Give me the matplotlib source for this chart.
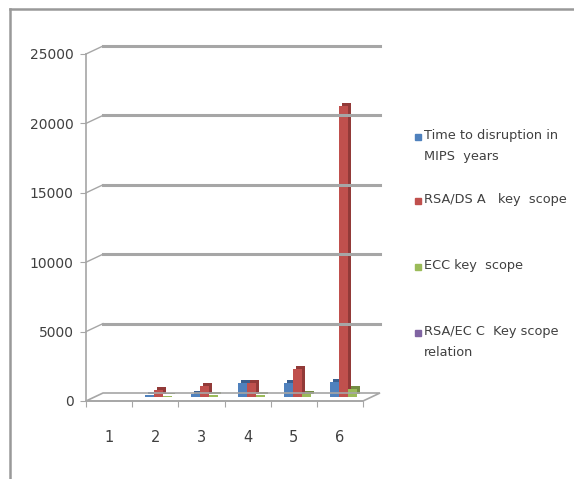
import matplotlib.pyplot as plt
from matplotlib.patches import Rectangle, Polygon
from matplotlib.lines import Line2D
from matplotlib.transforms import ScaledTranslation

# Dados das series
categorias = [1, 2, 3, 4, 5, 6]
tempo_mips = [0, 120, 200, 1000, 1000, 1100]
rsa_dsa = [0, 512, 768, 1024, 2048, 21000]
ecc = [0, 106, 132, 160, 224, 600]
rsa_ecc = [0, 5, 6, 6, 9, 35]
yticks = [0, 5000, 10000, 15000, 20000, 25000]

nomes = ['Time to disruption in\nMIPS  years', 'RSA/DS A   key  scope',
         'ECC key  scope', 'RSA/EC C  Key scope\nrelation']
cores = ['#4F81BD', '#C0504D', '#9BBB59', '#8064A2']
cores_escuras = ['#3A6090', '#923A38', '#738C42', '#5E4A78']
series = [tempo_mips, rsa_dsa, ecc, rsa_ecc]

W, H = 574, 479
cinza = '#A6A6A6'

fig = plt.figure(figsize=(W / 100, H / 100), dpi=100)
ax = fig.add_axes([86 / W, 1 - 401 / H, 277 / W, 347 / H])
ax.set_xlim(0.5, 6.5)
ax.set_ylim(0, 25000)


def px(ponto, dx=0, dy=0):
    # converte ponto de dados para fracao da figura, com deslocamento em pixels
    x, y = ax.transData.transform(ponto)
    return (x + dx) / W, (y + dy) / H


def linha(p0, p1, **kw):
    fig.add_artist(Line2D([p0[0], p1[0]], [p0[1], p1[1]],
                          transform=fig.transFigure, **kw))


# profundidade do "3D"
DX, DY = 17, 8

# piso
piso = [px((0.5, 0)), px((6.5, 0)), px((6.5, 0), DX, DY), px((0.5, 0), DX, DY)]
fig.add_artist(Polygon(piso, closed=True, facecolor='none', edgecolor=cinza,
                       lw=1.2, transform=fig.transFigure))

# grade na parede do fundo + diagonais da parede lateral
for v in yticks[1:]:
    linha(px((0.5, v), DX, DY), px((6.5, v), DX, DY), color=cinza, lw=2.2)
    linha(px((0.5, v)), px((0.5, v), DX, DY), color=cinza, lw=1.0)

# Barras com face lateral (no meio da profundidade)
meio = ScaledTranslation(8 / 100, 4 / 100, fig.dpi_scale_trans)
lado = ScaledTranslation(11 / 100, 7 / 100, fig.dpi_scale_trans)
largura = 0.195
for i, (vals, cor, escura) in enumerate(zip(series, cores, cores_escuras)):
    xs = [c + (i - 1.5) * largura for c in categorias]
    ax.bar(xs, vals, largura, color=escura, transform=ax.transData + lado,
           zorder=2 + i * 0.1, clip_on=False)
    ax.bar(xs, vals, largura, color=cor, transform=ax.transData + meio,
           zorder=2.05 + i * 0.1, clip_on=False)

ax.set_yticks(yticks)
ax.set_xticks([0.5, 1.5, 2.5, 3.5, 4.5, 5.5, 6.5])
ax.set_xticklabels([])
for c in categorias:
    ax.text(c, -2650, str(c), ha='center', va='center', fontsize=10.5,
            color='#404040', clip_on=False)
ax.tick_params(axis='y', labelsize=10, direction='out', length=4, color=cinza,
               labelcolor='#404040', pad=5)
ax.tick_params(axis='x', direction='out', length=4, color=cinza)
for s in ['top', 'right']:
    ax.spines[s].set_visible(False)
ax.spines['left'].set_color(cinza)
ax.spines['bottom'].set_color(cinza)
ax.spines['left'].set_linewidth(1.2)
ax.spines['bottom'].set_linewidth(1.2)
ax.patch.set_alpha(0)

# Legenda
posicoes = [137, 201, 267, 333]
for nome, cor, yp in zip(nomes, cores, posicoes):
    fig.add_artist(Rectangle((415 / W, 1 - (yp + 3) / H), 6 / W, 6 / H, color=cor))
    fig.text(424 / W, 1 - (yp - 8) / H, nome, ha='left', va='top', fontsize=9.3,
             color='#404040', linespacing=1.75)

# Moldura
linha((10 / W, 1 - 9 / H), (1, 1 - 9 / H), color='#999999', lw=1.8)
linha((10 / W, 0), (10 / W, 1 - 9 / H), color='#999999', lw=1.8)

fig.savefig('out.png', dpi=100)
